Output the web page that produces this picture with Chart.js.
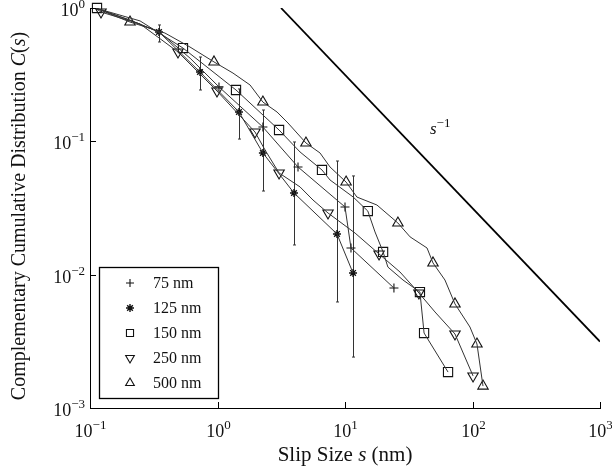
<!DOCTYPE html>
<html>
<head>
<meta charset="utf-8">
<script src="https://cdn.jsdelivr.net/npm/chart.js@4.4.0/dist/chart.umd.min.js"></script>
<style>
  html, body { margin: 0; padding: 0; background: #fff; }
  #wrap { width: 612px; height: 472px; }
</style>
</head>
<body>
<div id="wrap"><canvas id="ccdf" width="612" height="472"></canvas></div>
<script>
// decade ticks (exponents of ten)
const xTickExp = [-1, 0, 1, 2, 3];
const yTickExp = [-3, -2, -1, 0];

const sizeLabels = ["75 nm", "125 nm", "150 nm", "250 nm", "500 nm"];

// CCDF curves, [s (nm), C(s)]
const line75 = [[0.11, 1], [0.206, 0.81], [0.35, 0.66], [0.61, 0.42], [1.027, 0.256], [2.27, 0.128],
  [4.28, 0.0642], [10.0, 0.0322], [11.14, 0.01585], [24.2, 0.00794]];
const line125 = [[0.11, 1], [0.206, 0.81], [0.3475, 0.661], [0.729, 0.331], [1.474, 0.166], [2.27, 0.0818],
  [3.98, 0.041], [8.65, 0.0202], [11.56, 0.0103]];
const line150 = [[0.11, 1], [0.247, 0.80], [0.536, 0.501], [1.397, 0.2427], [3.04, 0.1216], [4.44, 0.0832],
  [6.60, 0.061], [7.63, 0.0513], [11.6, 0.0382], [15.1, 0.030], [17.2, 0.0209], [19.9, 0.0148],
  [21.7, 0.0114], [28.5, 0.00912], [38.7, 0.00741], [41.7, 0.00365], [64.3, 0.00186]];
const line250 = [[0.11, 1], [0.122, 0.933], [0.247, 0.759], [0.490, 0.468], [0.991, 0.2385], [1.968, 0.1175],
  [2.36, 0.0861], [3.04, 0.0579], [4.44, 0.0455], [5.61, 0.0363], [7.36, 0.029], [12.0, 0.0205],
  [18.5, 0.01429], [27.0, 0.01047], [38.0, 0.00729], [50.8, 0.00525], [72.9, 0.00359], [101, 0.00174]];
const line500 = [[0.11, 1], [0.206, 0.785], [0.387, 0.649], [0.608, 0.510], [0.939, 0.394], [1.323, 0.325],
  [1.80, 0.2646], [2.27, 0.197], [2.93, 0.166], [3.57, 0.1373], [4.94, 0.0972], [6.37, 0.0818],
  [7.63, 0.0642], [10.2, 0.0495], [12.4, 0.0382], [17.8, 0.0333], [26.0, 0.0244], [32.4, 0.0192],
  [44.0, 0.01585], [49.0, 0.01224], [60.8, 0.00912], [72.9, 0.00603], [95.5, 0.00405],
  [108.4, 0.00302], [120.9, 0.00146]];

// marker positions along each curve
const pts75 = [[1.027, 0.256], [2.27, 0.128], [4.28, 0.0642], [10.0, 0.0322], [11.14, 0.01585], [24.2, 0.00794]];
const pts125 = [[0.3475, 0.661], [0.729, 0.331], [1.474, 0.166], [2.27, 0.0818], [3.98, 0.041], [8.65, 0.0202], [11.56, 0.0103]];
const pts150 = [[0.1135, 1], [0.536, 0.501], [1.397, 0.2427], [3.04, 0.1216], [6.60, 0.061], [15.1, 0.030],
  [19.9, 0.0148], [38.7, 0.00741], [41.7, 0.00365], [64.3, 0.00186]];
const pts250 = [[0.122, 0.933], [0.490, 0.468], [0.991, 0.2385], [1.968, 0.1175], [3.04, 0.0579], [7.36, 0.029],
  [18.5, 0.01429], [38.0, 0.00729], [72.9, 0.00359], [101, 0.00174]];
const pts500 = [[0.206, 0.785], [0.939, 0.394], [2.27, 0.197], [4.94, 0.0972], [10.2, 0.0495], [26.0, 0.0244],
  [49.0, 0.01224], [72.9, 0.00603], [108.4, 0.00302], [120.9, 0.00146]];

// error bars on the 125 nm markers
const err125Lo = [0.556, 0.2427, 0.104, 0.0424, 0.0167, 0.00624, 0.00241];
const err125Hi = [0.746, 0.429, 0.247, 0.1718, 0.0989, 0.0712, 0.055];

// power law guide, C ~ s^-1
const guideLine = [[3.15, 1], [1000, 0.00315]];
const guideLabelAt = [46.4, 0.114];

const serif = '"Liberation Serif", "DejaVu Serif", serif';
const toXY = arr => arr.map(p => ({ x: p[0], y: p[1] }));

const styles = [
  { pointStyle: "cross", radius: 4.5, legendRadius: 4, rotation: 0, width: 1.1 },
  { pointStyle: "star", radius: 4, legendRadius: 4, rotation: 0, width: 1.4 },
  { pointStyle: "rect", radius: 6.5, legendRadius: 5, rotation: 0, width: 1.1 },
  { pointStyle: "triangle", radius: 6, legendRadius: 5, rotation: 180, width: 1.1 },
  { pointStyle: "triangle", radius: 6, legendRadius: 5, rotation: 0, width: 1.1 }
];

const lines = [line75, line125, line150, line250, line500];
const marks = [pts75, pts125, pts150, pts250, pts500];

const datasets = [];
lines.forEach(l => datasets.push({
  data: toXY(l), showLine: true, borderColor: "#333", borderWidth: 1,
  pointRadius: 0, fill: false, tension: 0
}));
marks.forEach((m, i) => datasets.push({
  label: sizeLabels[i], data: toXY(m), showLine: false,
  pointStyle: styles[i].pointStyle, pointRadius: styles[i].radius, pointRotation: styles[i].rotation,
  pointBorderColor: "#111", pointBackgroundColor: "rgba(0,0,0,0)", pointBorderWidth: styles[i].width,
  clip: false
}));
datasets.push({
  data: toXY(guideLine), showLine: true, borderColor: "#000", borderWidth: 1.8, pointRadius: 0
});

// draws a run of text pieces; each piece may be italic and/or raised
function rich(ctx, parts, x, y, size, align) {
  const fontOf = p => (p.i ? "italic " : "") + Math.round(p.sup ? size * 0.74 : size) + "px " + serif;
  let w = 0;
  parts.forEach(p => { ctx.font = fontOf(p); w += ctx.measureText(p.t).width; });
  let cx = align === "right" ? x - w : align === "center" ? x - w / 2 : x;
  ctx.textBaseline = "alphabetic";
  ctx.textAlign = "left";
  parts.forEach(p => {
    ctx.font = fontOf(p);
    ctx.fillText(p.t, cx, p.sup ? y - size * 0.42 : y);
    cx += ctx.measureText(p.t).width;
  });
}

const expText = e => (e < 0 ? "\u2212" + (-e) : "" + e);

const decor = {
  id: "decor",
  beforeDatasetsDraw(chart) {
    const { ctx, scales: { x, y } } = chart;
    ctx.save();
    ctx.strokeStyle = "#333";
    ctx.lineWidth = 1;
    pts125.forEach((p, i) => {
      const px = Math.round(x.getPixelForValue(p[0])) + 0.5;
      const y0 = y.getPixelForValue(err125Lo[i]);
      const y1 = y.getPixelForValue(err125Hi[i]);
      ctx.beginPath();
      ctx.moveTo(px, y0); ctx.lineTo(px, y1);
      ctx.moveTo(px - 1.5, y0); ctx.lineTo(px + 1.5, y0);
      ctx.moveTo(px - 1.5, y1); ctx.lineTo(px + 1.5, y1);
      ctx.stroke();
    });
    ctx.restore();
  },
  afterDraw(chart) {
    const { ctx, chartArea: a, scales: { x, y } } = chart;
    ctx.save();
    ctx.fillStyle = "#111";
    ctx.strokeStyle = "#000";
    ctx.lineWidth = 1;

    // inward decade ticks and their labels
    xTickExp.forEach(e => {
      const px = Math.round(x.getPixelForValue(Math.pow(10, e))) + 0.5;
      ctx.beginPath(); ctx.moveTo(px, a.bottom); ctx.lineTo(px, a.bottom - 6); ctx.stroke();
      rich(ctx, [{ t: "10" }, { t: expText(e), sup: true }], px, a.bottom + 29, 18, "center");
    });
    yTickExp.forEach(e => {
      const py = Math.round(y.getPixelForValue(Math.pow(10, e))) + 0.5;
      ctx.beginPath(); ctx.moveTo(a.left, py); ctx.lineTo(a.left + 6, py); ctx.stroke();
      rich(ctx, [{ t: "10" }, { t: expText(e), sup: true }], a.left - 5, py + 7, 18, "right");
    });

    // axis titles
    rich(ctx, [{ t: "Slip Size " }, { t: "s", i: true }, { t: " (nm)" }], (a.left + a.right) / 2, 461, 20.5, "center");
    ctx.save();
    ctx.translate(25, (a.top + a.bottom) / 2 + 8);
    ctx.rotate(-Math.PI / 2);
    rich(ctx, [{ t: "Complementary Cumulative Distribution " }, { t: "C", i: true }, { t: "(" }, { t: "s", i: true }, { t: ")" }], 0, 0, 20, "center");
    ctx.restore();

    // s^-1 label beside the guide line
    rich(ctx, [{ t: "s", i: true }, { t: "\u22121", sup: true }],
      x.getPixelForValue(guideLabelAt[0]), y.getPixelForValue(guideLabelAt[1]), 17, "left");

    // legend box
    const bx = 99, by = 267, bw = 119, bh = 131;
    ctx.lineWidth = 1.3;
    ctx.fillStyle = "#fff";
    ctx.fillRect(bx, by, bw, bh);
    ctx.strokeRect(bx + 0.5, by + 0.5, bw, bh);
    sizeLabels.forEach((lab, i) => {
      const ry = by + 16 + i * 25;
      const st = styles[i];
      ctx.strokeStyle = "#111";
      ctx.fillStyle = "rgba(0,0,0,0)";
      ctx.lineWidth = st.width;
      Chart.helpers.drawPoint(ctx, {
        pointStyle: st.pointStyle, radius: st.legendRadius,
        rotation: st.rotation, borderWidth: st.width
      }, 130, ry);
      ctx.fillStyle = "#111";
      rich(ctx, [{ t: lab }], 153, ry + 5, 16, "left");
    });
    ctx.restore();
  }
};

new Chart(document.getElementById("ccdf").getContext("2d"), {
  type: "scatter",
  data: { datasets: datasets },
  options: {
    responsive: false,
    animation: false,
    layout: { padding: { top: 8, right: 12, left: 0, bottom: 0 } },
    plugins: { legend: { display: false }, tooltip: { enabled: false } },
    scales: {
      x: {
        type: "logarithmic", min: 0.1, max: 1000,
        grid: { display: true, drawOnChartArea: false, drawTicks: false },
        border: { display: true, color: "#000", width: 1 },
        ticks: { display: false },
        afterFit(s) { s.height = 64; }
      },
      y: {
        type: "logarithmic", min: 0.001, max: 1,
        grid: { display: true, drawOnChartArea: false, drawTicks: false },
        border: { display: true, color: "#000", width: 1 },
        ticks: { display: false },
        afterFit(s) { s.width = 90; }
      }
    }
  },
  plugins: [decor]
});
</script>
</body>
</html>
